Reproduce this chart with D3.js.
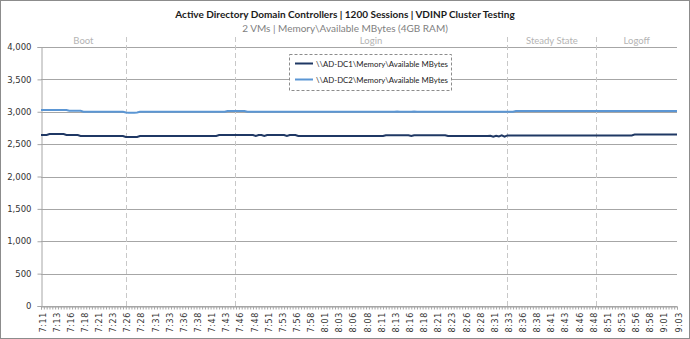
<!DOCTYPE html>
<html>
<head>
<meta charset="utf-8">
<script src="https://cdn.jsdelivr.net/npm/d3@7/dist/d3.min.js"></script>
<style>
  html, body { margin: 0; padding: 0; background: #fff; }
  svg { display: block; }
</style>
</head>
<body>
<svg id="chart" width="690" height="339"></svg>
<script>
// Sample times: one sample every 30 s from 7:11:00 to 9:03:30
const startMinutes = 7 * 60 + 11;
const sampleCount = 226;
const timeLabels = d3.range(sampleCount).map(i => {
  const m = Math.floor(startMinutes + i * 0.5);
  return Math.floor(m / 60) + ":" + String(m % 60).padStart(2, "0");
});

// Available MBytes, AD-DC1
const dc1 = [
  2640,2640,2640,2655,2655,2655,2655,2655,2655,2640,
  2640,2640,2640,2640,2625,2625,2625,2625,2625,2625,
  2625,2625,2625,2625,2625,2625,2625,2625,2625,2625,
  2610,2610,2610,2610,2610,2625,2625,2625,2625,2625,
  2625,2625,2625,2625,2625,2625,2625,2625,2625,2625,
  2625,2625,2625,2625,2625,2625,2625,2625,2625,2625,
  2625,2625,2625,2640,2640,2640,2640,2640,2640,2640,
  2640,2640,2640,2640,2640,2640,2625,2640,2640,2625,
  2640,2640,2640,2640,2640,2640,2640,2625,2640,2640,
  2640,2625,2625,2625,2625,2625,2625,2625,2625,2625,
  2625,2625,2625,2625,2625,2625,2625,2625,2625,2625,
  2625,2625,2625,2625,2625,2625,2625,2625,2625,2625,
  2625,2625,2638,2638,2638,2638,2638,2638,2638,2638,
  2638,2625,2638,2638,2638,2638,2638,2638,2638,2638,
  2638,2638,2638,2638,2625,2625,2625,2625,2625,2625,
  2625,2625,2625,2625,2625,2625,2625,2625,2625,2630,
  2615,2630,2620,2635,2615,2635,2635,2635,2635,2635,
  2635,2635,2635,2635,2635,2635,2635,2635,2635,2635,
  2635,2635,2635,2635,2635,2635,2635,2635,2635,2635,
  2635,2635,2635,2635,2635,2635,2635,2635,2635,2635,
  2635,2635,2635,2635,2635,2635,2635,2635,2635,2635,
  2648,2648,2648,2648,2648,2648,2648,2648,2648,2648,
  2648,2648,2648,2648,2648,2648
];

// Available MBytes, AD-DC2
const dc2 = [
  3027,3027,3027,3027,3027,3027,3027,3027,3027,3027,
  3016,3016,3016,3016,3016,3001,3001,3001,3001,3001,
  3001,3001,3001,3001,3001,3001,3001,3001,3001,3001,
  2988,2985,2985,2985,2988,2999,2999,2999,2999,2999,
  2999,2999,2999,2999,2999,2999,2999,2999,2999,2999,
  2999,2999,2999,2999,2999,2999,2999,2999,2999,2999,
  2999,2999,2999,2999,2999,2999,3012,3012,3012,3012,
  3012,3012,3012,2999,2999,2999,2999,2999,2999,2999,
  2999,2999,2999,2999,2999,2999,2999,2999,2999,2999,
  2999,2999,2999,2999,2999,2999,2999,2999,2999,2999,
  2999,2999,2999,2999,2999,2999,2999,2999,2999,2999,
  2999,2999,2999,2999,2999,2999,2999,2999,2999,2999,
  2999,2999,2999,2999,2999,2999,3005,2999,2999,2999,
  2999,2999,3005,2999,2999,2999,2999,2999,2999,2999,
  2999,2999,2999,2999,2999,2999,2999,2999,2999,2999,
  2999,2999,2999,2999,2999,2999,2999,2999,2999,2999,
  2999,2999,2999,2999,2999,2999,2999,2999,3010,3010,
  3010,3010,3010,3010,3010,3010,3010,3010,3010,3010,
  3010,3010,3010,3010,3010,3010,3010,3010,3010,3010,
  3010,3010,3010,3010,3010,3010,3010,3010,3010,3010,
  3010,3010,3010,3010,3010,3010,3010,3010,3010,3010,
  3010,3010,3010,3010,3010,3010,3010,3010,3010,3010,
  3010,3010,3010,3010,3010,3010
];

const seriesNames = ["\\\\AD-DC1\\Memory\\Available MBytes", "\\\\AD-DC2\\Memory\\Available MBytes"];
const seriesColors = ["#1f3864", "#5b96d4"];

// Test phases (sample index bounds); the short span after Boot is unlabelled
const phaseNames = ["Boot", "", "Login", "Steady State", "Logoff"];
const phaseBounds = [0, 30, 68.5, 165, 196.5, 225];

const yTicks = [0, 500, 1000, 1500, 2000, 2500, 3000, 3500, 4000];
const titleText = "Active Directory Domain Controllers | 1200 Sessions | VDINP Cluster Testing";
const subtitleText = "2 VMs | Memory\\Available MBytes (4GB RAM)";

const svg = d3.select("#chart");
const W = 690, H = 339;
const plotLeft = 41, plotRight = 677, plotTop = 47, plotBottom = 306;

// outer chart border
svg.append("rect")
  .attr("x", 0.5).attr("y", 0.5).attr("width", W - 1).attr("height", H - 1)
  .attr("fill", "#fff").attr("stroke", "#8c8c8c");

const x = d3.scaleLinear().domain([0, sampleCount - 1]).range([plotLeft, plotRight]);
const y = d3.scaleLinear().domain([0, 4000]).range([plotBottom, plotTop]);

// titles
svg.append("text").attr("x", 345).attr("y", 18).attr("text-anchor", "middle")
  .attr("font-family", "Lato, 'Liberation Sans', sans-serif").attr("font-size", 10)
  .attr("font-weight", "bold").attr("fill", "#1a1a1a").text(titleText);
svg.append("text").attr("x", 345).attr("y", 32).attr("text-anchor", "middle")
  .attr("font-family", "Lato, 'Liberation Sans', sans-serif").attr("font-size", 10)
  .attr("fill", "#7f7f7f").text(subtitleText);

// horizontal gridlines
svg.append("g").selectAll("line").data(yTicks).join("line")
  .attr("x1", plotLeft).attr("x2", plotRight)
  .attr("y1", d => Math.round(y(d)) + 0.5).attr("y2", d => Math.round(y(d)) + 0.5)
  .attr("stroke", "#a6a6a6").attr("stroke-width", 1);

// y axis
const yAxis = svg.append("g").attr("transform", `translate(${plotLeft + 0.5},0)`)
  .call(d3.axisLeft(y).tickValues(yTicks).tickFormat(d3.format(",")).tickSize(4).tickPadding(6));
yAxis.select(".domain").attr("stroke", "#a6a6a6");
yAxis.selectAll(".tick line").attr("stroke", "#a6a6a6");
yAxis.selectAll(".tick text").attr("font-family", "'DejaVu Sans', sans-serif")
  .attr("font-size", 8.5).attr("fill", "#333");

// x axis: a tick per sample, a label every fifth sample
const xAxis = svg.append("g").attr("transform", `translate(0,${Math.round(plotBottom) + 0.5})`)
  .call(d3.axisBottom(x).tickValues(d3.range(sampleCount)).tickSize(3).tickFormat(""));
xAxis.select(".domain").attr("stroke", "#a6a6a6");
xAxis.selectAll(".tick line").attr("stroke", "#a6a6a6");

svg.append("g").selectAll("text")
  .data(d3.range(0, sampleCount, 5)).join("text")
  .attr("transform", d => `translate(${x(d) + 4.5},${plotBottom + 6}) rotate(-90)`)
  .attr("text-anchor", "end")
  .attr("font-family", "'DejaVu Sans', sans-serif").attr("font-size", 8)
  .attr("letter-spacing", 0.6)
  .attr("fill", "#333")
  .text(d => timeLabels[d]);

// phase dividers and names
const dividers = phaseBounds.slice(1, -1);
svg.append("g").selectAll("line").data(dividers).join("line")
  .attr("x1", d => Math.round(x(d)) + 0.5).attr("x2", d => Math.round(x(d)) + 0.5)
  .attr("y1", 37).attr("y2", plotBottom)
  .attr("stroke", "#c8c8c8").attr("stroke-width", 1).attr("stroke-dasharray", "5,3");

svg.append("g").selectAll("text").data(phaseNames).join("text")
  .attr("x", (d, i) => (x(phaseBounds[i]) + x(phaseBounds[i + 1])) / 2)
  .attr("y", 44).attr("text-anchor", "middle")
  .attr("font-family", "Lato, 'Liberation Sans', sans-serif").attr("font-size", 9.5)
  .attr("fill", "#b4b4b4").text(d => d);

// series lines
const line = d3.line().x((d, i) => x(i)).y(d => y(d));
[dc1, dc2].forEach((s, k) => {
  svg.append("path").datum(s)
    .attr("fill", "none").attr("stroke", seriesColors[k])
    .attr("stroke-width", 2).attr("d", line);
});

// legend
const legend = svg.append("g");
legend.append("rect").attr("x", 289.5).attr("y", 54.5).attr("width", 162).attr("height", 36)
  .attr("fill", "#fff").attr("stroke", "#8c8c8c").attr("stroke-dasharray", "3,2");
seriesNames.forEach((name, k) => {
  const ly = 63.5 + k * 16;
  legend.append("line").attr("x1", 295).attr("x2", 313).attr("y1", ly).attr("y2", ly)
    .attr("stroke", seriesColors[k]).attr("stroke-width", 2);
  legend.append("text").attr("x", 316).attr("y", ly + 3)
    .attr("font-family", "Lato, 'Liberation Sans', sans-serif").attr("font-size", 7.8)
    .attr("fill", "#1a1a1a").text(name);
});
</script>
</body>
</html>
